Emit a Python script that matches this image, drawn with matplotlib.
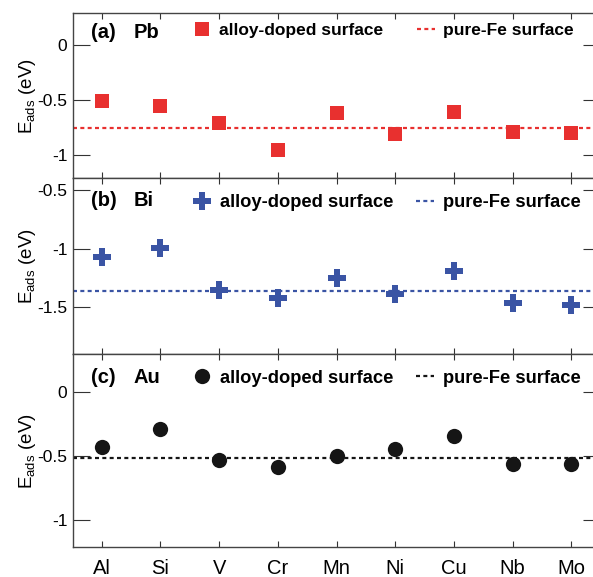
import numpy as np
import matplotlib.pyplot as plt

plt.rcParams['font.family'] = ['Liberation Sans', 'DejaVu Sans']

# dopant elements on the x axis
elements = ['Al', 'Si', 'V', 'Cr', 'Mn', 'Ni', 'Cu', 'Nb', 'Mo']

# adsorption energies (eV)
pb_ads = [-0.51, -0.55, -0.71, -0.955, -0.62, -0.81, -0.605, -0.79, -0.80]
bi_ads = [-1.07, -0.99, -1.35, -1.42, -1.25, -1.39, -1.19, -1.46, -1.48]
au_ads = [-0.43, -0.29, -0.53, -0.585, -0.505, -0.445, -0.345, -0.565, -0.565]

# pure-Fe reference energies
pb_fe = -0.752
bi_fe = -1.36
au_fe = -0.52

panels = [
    ('(a)', 'Pb', pb_ads, pb_fe, '#e8302f', 's', 10, (-1.21, 0.29), [0, -0.5, -1]),
    ('(b)', 'Bi', bi_ads, bi_fe, '#3a54a4', 'P', 12.5, (-1.90, -0.40), [-0.5, -1, -1.5]),
    ('(c)', 'Au', au_ads, au_fe, '#151515', 'o', 11, (-1.21, 0.29), [0, -0.5, -1]),
]

fig = plt.figure(figsize=(5.93, 5.77), dpi=100)
W, H = 593, 577
left, right = 73, 600
bounds = [(13, 178.3), (178.3, 354.3), (354.3, 547)]
# pixel offsets below the top of each panel: tag centre, legend centre
tag_dy = [19, 22, 23]
leg_dy = [17, 24.5, 24]
leg_size = [12.5, 13.2, 13.2]
col_space = [1.95, 1.2, 1.2]

x = np.arange(len(elements))
for i, (tag, metal, vals, fe, color, mk, ms, ylim, yticks) in enumerate(panels):
    top, bot = bounds[i]
    h = bot - top
    ax = fig.add_axes([left / W, 1 - bot / H, (right - left) / W, h / H])
    ax.plot(x, vals, linestyle='none', marker=mk, markersize=ms, color=color,
            markeredgewidth=0, label='alloy-doped surface')
    ax.axhline(fe, color=color, linestyle=(0, (1.8, 1.5)), linewidth=1.6,
               label='pure-Fe surface')
    ax.set_xlim(-0.49, 8.49)
    ax.set_ylim(*ylim)
    ax.set_yticks(yticks)
    ax.set_yticklabels(['%g' % t for t in yticks], fontsize=12.5)
    ax.set_xticks(x)
    if i == 2:
        ax.set_xticklabels(elements, fontsize=14.5)
    else:
        ax.set_xticklabels([])
    ax.tick_params(axis='x', direction='in', top=True, length=4, width=0.8,
                   color='#333333', pad=9)
    ax.tick_params(axis='y', direction='in', right=True, length=12.5, width=0.8,
                   color='#333333', pad=4)
    for s in ax.spines.values():
        s.set_color('#444444')
        s.set_linewidth(1.0)
    ax.set_ylabel('E$_{\\mathregular{ads}}$ (eV)', fontsize=13.5)
    ax.yaxis.set_label_coords(-0.066, 0.5)

    ty = 1 - tag_dy[i] / h
    ax.text((91 - left) / (right - left), ty, tag, transform=ax.transAxes,
            fontsize=14.5, fontweight='bold', va='center', ha='left')
    ax.text((134 - left) / (right - left), ty, metal, transform=ax.transAxes,
            fontsize=14.5, fontweight='bold', va='center', ha='left')

    fs = leg_size[i]
    em = fs / 72 * 100
    ax.legend(loc='center left',
              bbox_to_anchor=((202 - 0.5 * em - left) / (right - left), 1 - leg_dy[i] / h),
              ncol=2, frameon=False, borderpad=0, borderaxespad=0,
              prop={'weight': 'bold', 'size': fs}, handlelength=1.0,
              handletextpad=0.5, columnspacing=col_space[i])

fig.savefig('out.png', dpi=100)
